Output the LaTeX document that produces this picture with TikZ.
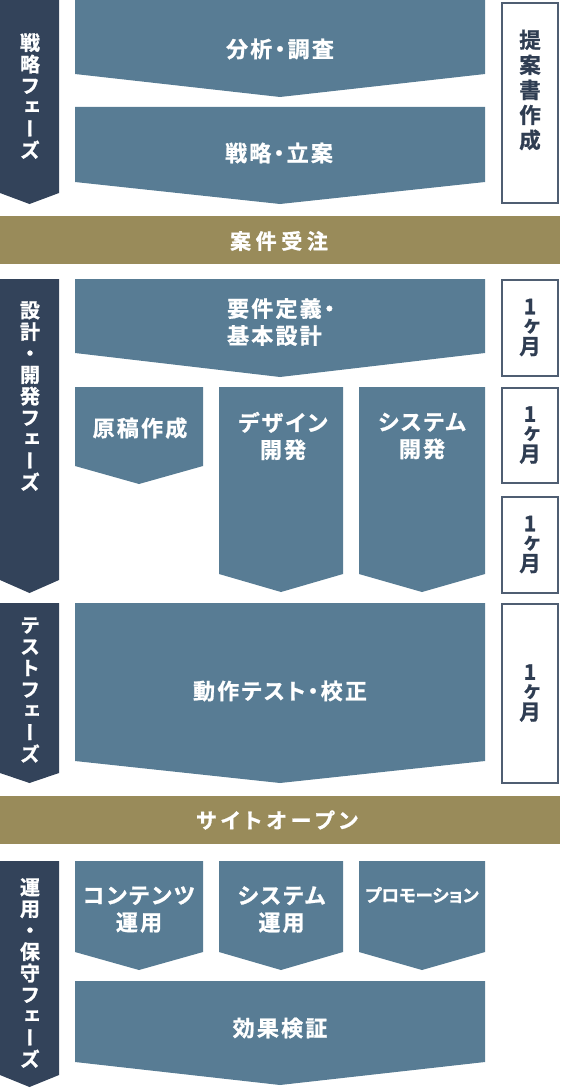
\documentclass[tikz,border=0pt]{standalone}
\usepackage{fontspec}
\IfFontExistsTF{Noto Sans CJK JP Bold}{%
  \newfontfamily\jpls{Noto Sans CJK JP Bold}[RawFeature=+palt,LetterSpace=10,FakeBold=1]
  \newfontfamily\jpsmall{Noto Sans CJK JP Bold}[RawFeature=+palt,FakeBold=1]
  \newfontfamily\jpband{Noto Sans CJK JP Bold}[RawFeature=+palt,LetterSpace=22,FakeBold=1]
  \newfontfamily\jpv{Noto Sans CJK JP Bold}[RawFeature=+vert,FakeBold=1]
}{%
  \newfontfamily\jpls{Noto Sans CJK JP}[RawFeature=+palt,LetterSpace=10,FakeBold=3]
  \newfontfamily\jpsmall{Noto Sans CJK JP}[RawFeature=+palt,FakeBold=3]
  \newfontfamily\jpband{Noto Sans CJK JP}[RawFeature=+palt,LetterSpace=22,FakeBold=3]
  \newfontfamily\jpv{Noto Sans CJK JP}[RawFeature=+vert,FakeBold=3]
}
\definecolor{navy}{HTML}{33435A}
\definecolor{steel}{HTML}{587C94}
\definecolor{olive}{HTML}{998B5A}
\definecolor{boxline}{HTML}{4F5E72}
\definecolor{boxtext}{HTML}{2F3D52}
\newcommand\mychev[6]{\fill[#6] (#1,#3) -- (#2,#3) -- (#2,#4) -- ({(#1+#2)/2},#5) -- (#1,#4) -- cycle;}
\begin{document}
\begin{tikzpicture}[x=1pt,y=-1pt,
  maintext/.style={text=white,font={\jpls\fontsize{22}{27}\selectfont},inner sep=0pt,align=center},
  promotext/.style={text=white,font={\jpsmall\fontsize{17.5}{22}\selectfont},inner sep=0pt},
  bandtext/.style={text=white,font={\jpband\fontsize{21}{25}\selectfont},inner sep=0pt},
  phasetext/.style={text=white,font={\jpv\fontsize{20}{21.5}\selectfont},inner sep=0pt,align=center},
  proptext/.style={text=boxtext,font={\jpv\fontsize{21.5}{25}\selectfont},inner sep=0pt,align=center},
  durtext/.style={text=boxtext,font={\jpv\fontsize{21.5}{20}\selectfont},inner sep=0pt,align=center},
  durbox/.style={draw=boxline,line width=2pt,fill=white}]
\useasboundingbox (0,0) rectangle (560,1089);
% phase bars
\mychev{0}{59}{0}{193}{204}{navy}
\mychev{0}{59}{279}{580}{593}{navy}
\mychev{0}{59}{603}{773}{783}{navy}
\mychev{0}{59}{861}{1075}{1087}{navy}
% work boxes
\mychev{75}{485}{0}{74}{97}{steel}
\mychev{75}{485}{107}{182}{204}{steel}
\mychev{75}{485}{279}{353}{377}{steel}
\mychev{75}{203}{387}{466}{484}{steel}
\mychev{219}{343}{387}{574}{592}{steel}
\mychev{359}{485}{387}{574}{592}{steel}
\mychev{75}{485}{603}{761}{783}{steel}
\mychev{75}{203}{861}{952}{970}{steel}
\mychev{219}{343}{861}{952}{970}{steel}
\mychev{359}{485}{861}{952}{970}{steel}
\mychev{75}{485}{981}{1062}{1085}{steel}
% bands
\fill[olive] (0,216) rectangle (560,264);
\fill[olive] (0,796) rectangle (560,844);
% duration boxes
\draw[durbox] (502,3) rectangle (558,203);
\draw[durbox] (502,280) rectangle (558,376);
\draw[durbox] (502,388) rectangle (558,483);
\draw[durbox] (502,497) rectangle (558,593);
\draw[durbox] (502,604) rectangle (558,783);
% phase labels
\node[phasetext] (p1) at (30,96) {戦\\略\\フ\\ェ\\ー\\ズ};
\node[phasetext] (p2) at (30,396) {設\\計\\・\\開\\発\\フ\\ェ\\ー\\ズ};
\node[phasetext] (p3) at (30,690) {テ\\ス\\ト\\フ\\ェ\\ー\\ズ};
\node[phasetext] (p4) at (30,973) {運\\用\\・\\保\\守\\フ\\ェ\\ー\\ズ};
% work labels
\node[maintext] (tA) at (280,49) {分析・調査};
\node[maintext] (tB) at (279,153) {戦略・立案};
\node[maintext,align=left] (tC) at (281,322) {要件定義・\\基本設計};
\node[maintext] (tD) at (140,428) {原稿作成};
\node[maintext] (tE) at (283,436) {デザイン\\開発};
\node[maintext] (tF) at (422,436) {システム\\開発};
\node[maintext] (tG) at (280,691) {動作テスト・校正};
\node[maintext] (tH) at (139,909.5) {コンテンツ\\運用};
\node[maintext] (tI) at (281.5,909.5) {システム\\運用};
\node[promotext] (tJ) at (422,895) {プロモーション};
\node[maintext] (tK) at (280,1028) {効果検証};
% band labels
\node[bandtext] (b1) at (279,241) {案件受注};
\node[bandtext] (b2) at (277,820) {サイトオープン};
% durations
\node[proptext] (d0) at (530,90) {提\\案\\書\\作\\成};
\node[durtext] (d1) at (530,327.5) {1\\ヶ\\月};
\node[durtext] (d2) at (530,435) {1\\ヶ\\月};
\node[durtext] (d3) at (530,544.5) {1\\ヶ\\月};
\node[durtext] (d4) at (530,693) {1\\ヶ\\月};
\end{tikzpicture}
\end{document}
